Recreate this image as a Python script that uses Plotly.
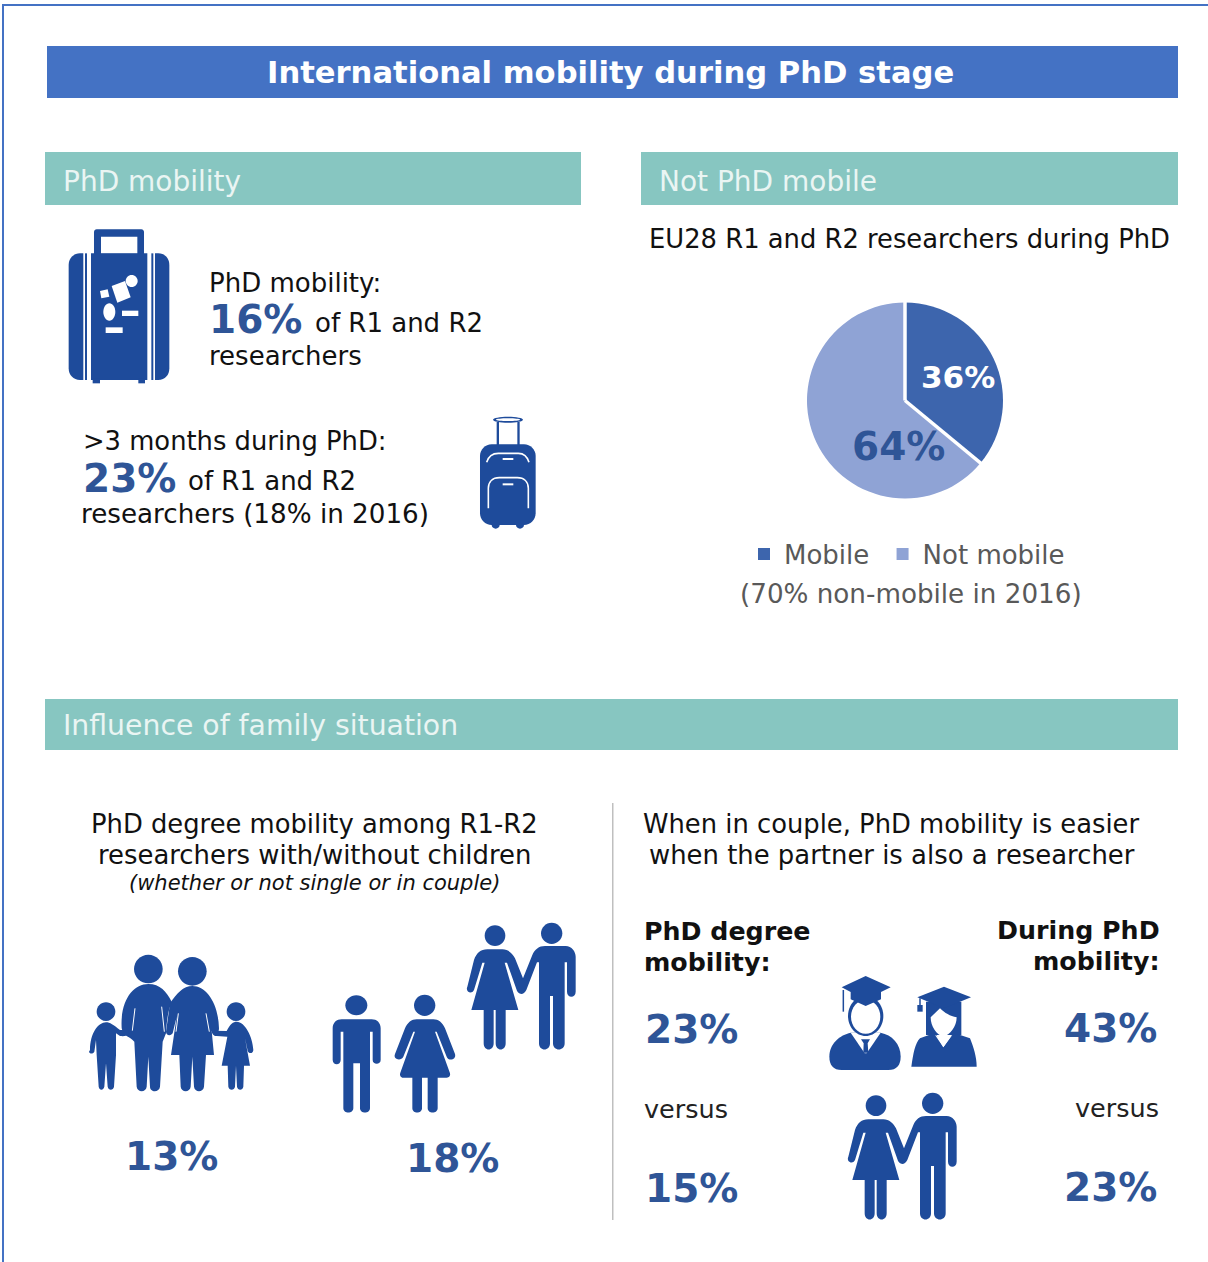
import re, math
import plotly.graph_objects as go

W, H = 1208, 1262
BLUE = "#4472c4"; TEAL = "#87c6c1"; ICON = "#1e4b9b"; PCT = "#2f5597"; GREY = "#595959"
FONT = "DejaVu Sans"

pie_labels = ["Mobile", "Not mobile"]
pie_values = [36, 64]
pie_colors = ["#3d65ad", "#8fa3d5"]
phd_mobility = 16
over_3_months = 23
with_children = 13
without_children = 18
degree_partner_researcher = 23
degree_partner_other = 15
during_partner_researcher = 43
during_partner_other = 23

shapes, annos = [], []

def px(x): return x / W
def py(y): return 1 - y / H

def tr(path, s=1.0, ox=0.0, oy=0.0):
    """path in crop coordinates -> paper coordinates"""
    toks = re.findall(r"[MLCZ]|-?\d+\.?\d*", path)
    out, isx, xv = [], True, 0
    for t in toks:
        if t in "MLCZ":
            out.append(t); isx = True
        elif isx:
            xv = px(float(t) * s + ox); isx = False
        else:
            out.append(f"{xv:.5f},{py(float(t) * s + oy):.5f}"); isx = True
    return " ".join(out)

def ell(cx, cy, rx, ry=None):
    ry = rx if ry is None else ry
    k = 0.5523
    return (f"M{cx-rx},{cy} C{cx-rx},{cy-k*ry} {cx-k*rx},{cy-ry} {cx},{cy-ry} "
            f"C{cx+k*rx},{cy-ry} {cx+rx},{cy-k*ry} {cx+rx},{cy} "
            f"C{cx+rx},{cy+k*ry} {cx+k*rx},{cy+ry} {cx},{cy+ry} "
            f"C{cx-k*rx},{cy+ry} {cx-rx},{cy+k*ry} {cx-rx},{cy} Z")

def rect(x0, y0, x1, y1):
    return f"M{x0},{y0} L{x1},{y0} L{x1},{y1} L{x0},{y1} Z"

def rrect(x0, y0, x1, y1, r):
    k = r * 0.45
    return (f"M{x0+r},{y0} L{x1-r},{y0} C{x1-k},{y0} {x1},{y0+k} {x1},{y0+r} L{x1},{y1-r} "
            f"C{x1},{y1-k} {x1-k},{y1} {x1-r},{y1} L{x0+r},{y1} C{x0+k},{y1} {x0},{y1-k} {x0},{y1-r} "
            f"L{x0},{y0+r} C{x0},{y0+k} {x0+k},{y0} {x0+r},{y0} Z")

def fill(path, color=ICON, s=1.0, ox=0.0, oy=0.0):
    shapes.append(dict(type="path", xref="paper", yref="paper", path=tr(path, s, ox, oy),
                       fillcolor=color, line=dict(width=0), layer="above"))

def stroke(path, width, color="white", s=1.0, ox=0.0, oy=0.0):
    shapes.append(dict(type="path", xref="paper", yref="paper", path=tr(path, s, ox, oy),
                       line=dict(color=color, width=width), layer="above"))

def box(x0, y0, x1, y1, color):
    shapes.append(dict(type="rect", xref="paper", yref="paper", x0=px(x0), x1=px(x1),
                       y0=py(y0), y1=py(y1), fillcolor=color, line=dict(width=0), layer="below"))

def text(x, y, s, size, color="#111111", anchor="left", bold=False, italic=False):
    if bold: s = f"<b>{s}</b>"
    if italic: s = f"<i>{s}</i>"
    annos.append(dict(xref="paper", yref="paper", x=px(x), y=py(y), text=s, showarrow=False,
                      xanchor=anchor, yanchor="middle", borderpad=0, borderwidth=0,
                      font=dict(family=FONT, size=size, color=color)))

# ---- frame and bands
box(2, 4, W, 6, BLUE)
box(2, 4, 4, H, BLUE)
box(47, 46, 1178, 98, BLUE)
box(45, 152, 581, 205, TEAL)
box(641, 152, 1178, 205, TEAL)
box(45, 699, 1178, 750, TEAL)
box(612, 803, 613.5, 1220, "#bfbfbf")

# ---- band titles
text(611, 72, "International mobility during PhD stage", 30.6, "white", "center", bold=True)
HEAD = "#eaf5f3"
text(63, 181, "PhD mobility", 28, HEAD)
text(659, 181, "Not PhD mobile", 28, HEAD)
text(63, 725.5, "Influence of family situation", 28.3, HEAD)

# ---- PhD mobility text
text(209, 283, "PhD mobility:", 26)
text(209, 319.5, f"{phd_mobility}%", 39, PCT, bold=True)
text(315, 323, "of R1 and R2", 26)
text(209, 356, "researchers", 26)
text(83, 441, "&gt;3 months during PhD:", 25.8)
text(83, 478, f"{over_3_months}%", 39, PCT, bold=True)
text(188, 481, "of R1 and R2", 26)
text(81, 514, "researchers (18% in 2016)", 26.2)

# ---- pie side
text(909, 239.5, "EU28 R1 and R2 researchers during PhD", 25.8, "#111111", "center")
text(958, 377, f"{pie_values[0]}%", 31, "white", "center", bold=True)
text(898, 447, f"{pie_values[1]}%", 39, PCT, "center", bold=True)
text(911, 594, "(70% non-mobile in 2016)", 26.2, GREY, "center")

# ---- family section text
text(314, 824, "PhD degree mobility among R1-R2", 25.8, "#111111", "center")
text(314, 855, "researchers with/without children", 25.9, "#111111", "center")
text(314, 883, "(whether or not single or in couple)", 21, "#111111", "center", italic=True)
text(171, 1156, f"{with_children}%", 39, PCT, "center", bold=True)
text(452, 1158, f"{without_children}%", 39, PCT, "center", bold=True)

text(643, 824, "When in couple, PhD mobility is easier", 25.8)
text(649, 855, "when the partner is also a researcher", 25.9)
text(644, 931, "PhD degree", 25.3, "#111111", bold=True)
text(644, 962, "mobility:", 25.3, "#111111", bold=True)
text(1160, 930, "During PhD", 25.3, "#111111", "right", bold=True)
text(1160, 961, "mobility:", 25.3, "#111111", "right", bold=True)
text(645, 1029, f"{degree_partner_researcher}%", 39, PCT, bold=True)
text(645, 1188, f"{degree_partner_other}%", 39, PCT, bold=True)
text(1157, 1028, f"{during_partner_researcher}%", 39, PCT, "right", bold=True)
text(1157, 1187, f"{during_partner_other}%", 39, PCT, "right", bold=True)
text(644, 1108.5, "versus", 25.5, "#222222")
text(1159, 1107.5, "versus", 25.5, "#222222", "right")

# ---- big suitcase (crop at 40,210 scale 1/3)
S1 = dict(s=1/3, ox=40, oy=210)
fill(rrect(162, 58, 312, 140, 8), **S1)
fill(rect(183, 80, 292, 131), "white", **S1)
fill(rect(153, 130, 322, 510), **S1)
fill(rect(158, 505, 180, 520), **S1)
fill(rect(295, 505, 315, 520), **S1)
fill("M130,130 L130,510 L120,510 C100,510 86,495 86,475 L86,165 C86,145 100,130 120,130 Z", **S1)
fill("M345,130 L345,510 L355,510 C375,510 388,495 388,475 L388,165 C388,145 375,130 355,130 Z", **S1)
fill(rect(135, 130, 141, 510), **S1)
fill(rect(334, 130, 340, 510), **S1)
fill(ell(275, 213, 18), "white", **S1)
fill("M215,228 L255,213 L272,262 L232,278 Z", "white", **S1)
fill("M180,243 L203,238 L208,260 L184,265 Z", "white", **S1)
fill(ell(208, 306, 18, 26), "white", **S1)
fill(rect(246, 302, 295, 318), "white", **S1)
fill(rect(197, 352, 248, 369), "white", **S1)

# ---- small suitcase
fill(ell(1404, 629, 45, 9), **S1)
fill(ell(1404, 629, 36, 4), "white", **S1)
fill(rect(1370, 636, 1377, 710), **S1)
fill(rect(1432, 636, 1439, 710), **S1)
fill(ell(1367, 945, 12, 11), **S1)
fill(ell(1440, 945, 12, 11), **S1)
fill(rrect(1320, 703, 1487, 945, 35), **S1)
stroke("M1340,757 C1345,740 1355,730 1375,730 L1435,730 C1452,730 1462,740 1467,757", 1.6, **S1)
stroke("M1345,895 L1345,835 C1345,815 1358,803 1378,803 L1432,803 C1452,803 1465,815 1465,835 L1465,895", 1.6, **S1)
fill(rect(1388, 744, 1420, 750), "white", **S1)
fill(rect(1388, 820, 1420, 826), "white", **S1)

# ---- family (crop at 70,900 scale 1/3)
S3 = dict(s=1/3, ox=70, oy=900)
for c in [(235, 207, 43), (367, 214, 43), (108, 335, 28), (498, 335, 28)]:
    fill(ell(*c), **S3)
fill("M155,385 C150,300 190,252 235,252 C270,252 290,275 305,305 C295,330 290,360 288,400 L278,425 L270,560 "
     "C268,578 240,578 240,560 L235,470 L230,560 C228,578 202,578 200,560 L193,425 C180,410 160,410 155,385 Z", **S3)
fill("M300,310 C320,280 340,258 367,258 C410,258 445,310 447,385 C447,405 428,405 425,392 L432,465 L408,465 L402,560 "
     "C400,578 374,578 372,560 L367,470 L362,560 C360,578 334,578 332,560 L328,465 L303,465 L320,350 L308,400 "
     "C300,410 288,405 288,395 Z", **S3)
fill("M60,450 C60,400 85,367 108,367 C120,367 130,375 150,390 L175,390 C182,405 170,410 150,408 L138,400 L138,465 "
     "L132,560 C130,572 115,572 113,560 L108,490 L103,560 C100,572 88,572 86,560 L80,465 L78,420 L73,455 C70,462 58,462 57,455 Z", **S3)
fill("M425,392 L470,393 C480,372 490,365 500,365 C525,365 548,410 550,450 C550,462 535,462 533,452 L525,415 L540,497 "
     "L522,497 L520,560 C518,572 503,572 501,560 L498,497 L495,560 C493,572 477,572 475,560 L473,497 L455,497 L472,410 "
     "L440,408 C430,408 425,400 425,392 Z", **S3)
stroke("M195,325 L187,392", 1.0, **S3)
stroke("M275,320 L283,395", 1.0, **S3)
stroke("M325,340 L318,395", 1.0, **S3)
stroke("M408,340 L418,395", 1.0, **S3)

# ---- single man / single woman
fill(ell(859, 316, 33, 30), **S3)
fill("M788,385 C788,368 800,358 815,358 L905,358 C920,358 932,368 932,385 L932,480 C932,495 908,495 908,480 L908,395 "
     "L900,395 L900,625 C900,642 870,642 870,625 L870,490 L850,490 L850,625 C850,642 820,642 820,625 L820,395 L812,395 "
     "L812,480 C812,497 788,497 788,480 Z", **S3)
fill(ell(1064, 316, 32), **S3)
fill("M1005,385 C1012,368 1025,358 1040,358 L1090,358 C1105,358 1118,368 1125,385 L1155,462 C1160,480 1135,485 1130,470 "
     "L1100,395 L1095,395 L1140,520 C1142,530 1135,533 1130,533 L1103,533 L1103,625 C1103,642 1073,642 1073,625 L1073,533 "
     "L1056,533 L1056,625 C1056,642 1027,642 1027,625 L1027,533 L1000,533 C992,533 988,525 991,518 L1035,395 L1030,395 "
     "L1000,470 C993,485 968,478 975,462 Z", **S3)

# ---- couple, drawn twice
COUPLE = ("M165,510 C172,490 185,478 205,478 L250,478 C268,478 280,490 288,505 L312,565 L340,495 C347,478 360,468 378,468 "
          "L440,468 C458,468 470,485 470,500 L470,605 C470,625 444,625 444,605 L444,517 L437,517 L437,760 C437,785 402,785 402,760 "
          "L402,618 L393,618 L393,760 C393,785 360,785 360,760 L360,517 L354,517 L322,600 C312,620 295,612 292,597 L264,518 L257,518 "
          "L298,660 L260,660 L260,760 C260,785 230,785 230,760 L230,660 L224,660 L224,760 C224,785 194,785 194,760 L194,660 L157,660 "
          "L197,518 L190,518 L165,600 C158,615 138,605 145,590 Z")
for ox, oy in [(800, 960), (419, 790)]:
    S = dict(s=1/3, ox=ox, oy=oy)
    fill(COUPLE, **S)
    fill(ell(228, 437, 31), **S)
    fill(ell(398, 430, 32), **S)

# ---- graduates (crop at 800,960 scale 1/3)
S4 = dict(s=1/3, ox=800, oy=960)
fill("M88,290 C88,250 120,225 152,218 L242,218 C275,225 302,250 302,290 C302,315 290,330 265,330 L125,330 C100,330 88,315 88,290 Z", **S4)
fill("M152,218 L242,218 L200,280 L194,280 Z", "white", **S4)
fill("M183,238 L210,238 L203,250 L205,278 L190,278 L191,250 Z", **S4)
fill(ell(197, 168, 53, 60), **S4)
fill(ell(197, 170, 44, 51), "white", **S4)
fill("M197,48 L272,82 L243,96 L243,118 L197,138 L152,118 L152,96 L125,82 Z", **S4)
stroke("M130,90 L130,155", 1.5, ICON, **S4)
fill(rect(378, 125, 484, 225), **S4)
fill("M334,320 C340,280 345,250 360,235 L405,218 L430,262 L460,218 L510,235 C520,260 530,290 530,320 Z", **S4)
fill("M392,172 L420,145 C435,160 450,168 470,172 C470,200 450,225 430,230 C410,225 392,200 392,172 Z", "white", **S4)
fill("M405,225 L430,240 L457,225 L430,262 Z", "white", **S4)
fill("M432,80 L513,112 L432,145 L352,112 Z", **S4)
stroke("M360,115 L360,140", 1.5, ICON, **S4)
fill(rect(352, 135, 368, 155), **S4)

# ---- pie, its slice boundaries drawn white so the legend swatches keep their full size
PCX, PCY, PR = 905, 400.5, 98
angle = 0.0
for v in pie_values:
    a = math.radians(angle)
    stroke(f"M{PCX},{PCY} L{PCX + (PR+1)*math.sin(a)},{PCY - (PR+1)*math.cos(a)}", 3.5)
    angle += 360 * v / sum(pie_values)

# one trailing no-break space widens the gap between the two legend entries
legend_names = [pie_labels[0] + "\u00a0", pie_labels[1]]

fig = go.Figure(go.Pie(
    labels=legend_names, values=pie_values, sort=False, direction="clockwise", rotation=0,
    marker=dict(colors=pie_colors, line=dict(width=0)),
    textinfo="none", hoverinfo="label+percent",
    domain=dict(x=[px(PCX-PR), px(PCX+PR)], y=[py(PCY+PR), py(PCY-PR)]),
))
fig.update_layout(
    width=W, height=H, margin=dict(l=0, r=0, t=0, b=0), paper_bgcolor="white",
    shapes=shapes, annotations=annos,
    legend=dict(orientation="h", x=px(744), y=py(554), xanchor="left", yanchor="middle",
                font=dict(family=FONT, size=26, color=GREY), bgcolor="rgba(0,0,0,0)", itemclick=False),
    showlegend=True,
)
fig.write_html("out.html", config=dict(displayModeBar=False),
               post_script="document.body.style.margin='0';")
